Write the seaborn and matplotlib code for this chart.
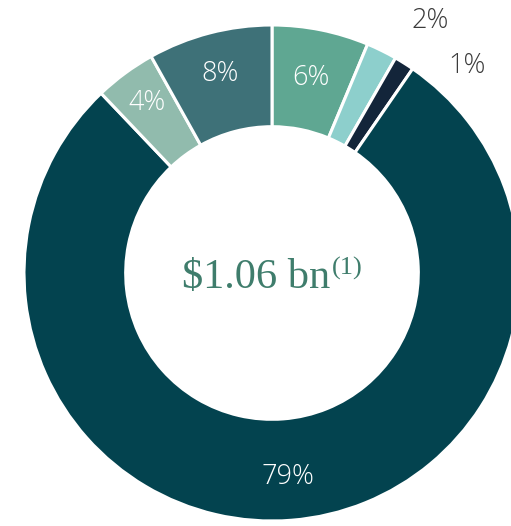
import matplotlib
matplotlib.use("Agg")
import matplotlib.pyplot as plt
import seaborn as sns
import numpy as np

# Data (clockwise from 12 o'clock)
categories = ["A", "B", "C", "D", "E", "F"]
values = [6.3, 2.0, 1.3, 78.3, 4.0, 8.1]
pct_labels = ["6%", "2%", "1%", "79%", "4%", "8%"]
colors = ["#5fa792", "#8dcfcc", "#13253a", "#03434f", "#91bbad", "#3e7178"]
center_main = "$1.06 bn"
center_sup = "(1)"

sns.set_theme(style="white")

R_PX = 248.0
CX, CY = 272.0, 273.0
W, H = 511, 526

fig = plt.figure(figsize=(W / 100, H / 100), dpi=100)
ax = fig.add_axes([0, 0, 1, 1])

wedges, _ = ax.pie(
    values,
    colors=colors,
    startangle=90,
    counterclock=False,
    radius=1.0,
    wedgeprops=dict(width=0.41, edgecolor="white", linewidth=2.2),
)

ax.set_xlim(-CX / R_PX, (W - CX) / R_PX)
ax.set_ylim(-(H - CY) / R_PX, CY / R_PX)
ax.set_aspect("equal")
ax.axis("off")

label_font = ["Open Sans", "DejaVu Sans"]
inside = {0: 0.80, 3: 0.826, 4: 0.85, 5: 0.83}
outside = {1: (35, 21), 2: (45, -2)}
for i, w in enumerate(wedges):
    mid = np.deg2rad((w.theta1 + w.theta2) / 2)
    if i in inside:
        r = inside[i]
        ax.text(r * np.cos(mid), r * np.sin(mid), pct_labels[i],
                ha="center", va="center", color="white",
                fontsize=19.5, family=label_font, fontweight="light")
    else:
        ax.annotate(pct_labels[i], xy=(np.cos(mid), np.sin(mid)),
                    xytext=outside[i], textcoords="offset points",
                    ha="center", va="center", color="#3b3b3b",
                    fontsize=19.5, family=label_font, fontweight="light")

serif = ["Liberation Serif", "DejaVu Serif"]
t = ax.text((330 - CX) / R_PX, (CY - 288) / R_PX, center_main,
            ha="right", va="baseline", color="#3f7d6c",
            fontsize=30.5, family=serif)
ax.text((332 - CX) / R_PX, (CY - 257) / R_PX, center_sup,
        ha="left", va="top", color="#3f7d6c",
        fontsize=19, family=serif)

fig.savefig("out.png", dpi=100, facecolor="white")
